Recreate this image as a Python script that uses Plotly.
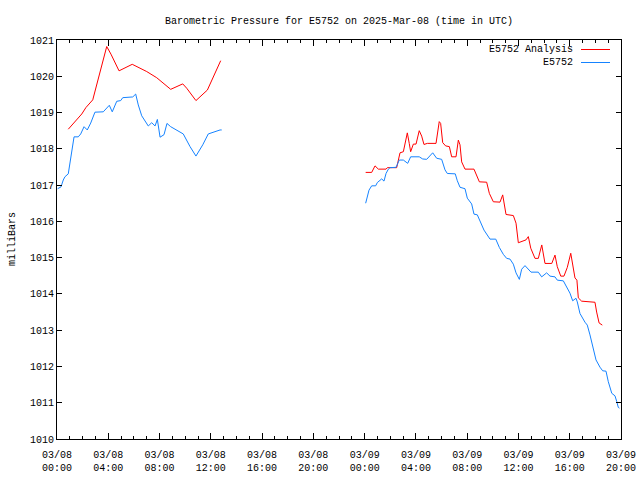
import pandas as pd
import plotly.graph_objects as go

base = pd.Timestamp("2025-03-08 00:00")

# E5752 observations (hours since 2025-03-08 00:00 UTC, millibars)
obs1_hours = [0.05, 0.31, 0.49, 0.62, 0.88, 1.15, 1.33, 1.66, 1.85, 2.11, 2.36, 2.63, 2.96, 3.61, 4.08,
              4.31, 4.66, 4.97, 5.13, 5.91, 6.14, 6.34, 6.61, 7.12, 7.39, 7.65, 7.83, 8.04, 8.35,
              8.58, 8.87, 9.85, 10.38, 10.84, 11.37, 11.80, 12.19, 12.72, 12.85]
obs1_mb = [1016.90, 1016.95, 1017.14, 1017.23, 1017.31, 1017.88, 1018.33, 1018.33, 1018.41, 1018.61,
           1018.52, 1018.71, 1019.01, 1019.02, 1019.20, 1019.02, 1019.31, 1019.33, 1019.41, 1019.43,
           1019.51, 1019.21, 1018.91, 1018.63, 1018.72, 1018.63, 1018.81, 1018.32, 1018.39,
           1018.70, 1018.61, 1018.41, 1018.06, 1017.80, 1018.11, 1018.41, 1018.46, 1018.52, 1018.52]

obs2_hours = [24.08, 24.21, 24.34, 24.55, 24.86, 24.99, 25.33, 25.51, 25.67, 25.85, 25.98, 26.45,
              26.70, 27.02, 27.36, 27.59, 28.26, 28.53, 28.84, 29.31, 29.62, 30.01, 30.27, 30.45,
              31.07, 31.23, 31.44, 31.83, 32.01, 32.35, 32.53, 32.79, 33.00, 33.31, 33.78, 34.23,
              34.51, 34.82, 35.08, 35.34, 35.60, 35.81, 36.07, 36.25, 36.51, 36.98, 37.55, 37.81,
              38.20, 38.46, 38.85, 39.03, 39.50, 39.76, 40.02, 40.23, 40.49, 40.59, 40.80, 41.19,
              41.37, 41.58, 41.79, 42.05, 42.36, 42.57, 42.83, 43.01, 43.28, 43.53, 43.67, 43.79, 43.88]
obs2_mb = [1016.50, 1016.66, 1016.86, 1016.98, 1016.98, 1017.07, 1017.17, 1017.11, 1017.32, 1017.44,
           1017.48, 1017.49, 1017.69, 1017.69, 1017.60, 1017.78, 1017.78, 1017.72, 1017.71, 1017.89,
           1017.74, 1017.71, 1017.42, 1017.32, 1017.31, 1017.12, 1016.94, 1016.90, 1016.64, 1016.48,
           1016.20, 1016.18, 1016.02, 1015.76, 1015.51, 1015.51, 1015.28, 1015.09, 1014.98, 1014.96,
           1014.82, 1014.58, 1014.40, 1014.68, 1014.78, 1014.60, 1014.60, 1014.47, 1014.58, 1014.49,
           1014.47, 1014.38, 1014.36, 1014.20, 1014.02, 1013.81, 1013.88, 1013.78, 1013.46, 1013.22,
           1013.14, 1012.87, 1012.54, 1012.18, 1011.98, 1011.88, 1011.87, 1011.58, 1011.26, 1011.19,
           1011.03, 1010.87, 1010.85]

# E5752 Analysis
ana1_hours = [0.88, 1.40, 1.93, 2.26, 2.79, 3.88, 4.21, 4.84, 5.87, 7.00, 7.78, 8.87, 9.81, 10.12,
              10.84, 11.73, 12.77]
ana1_mb = [1018.54, 1018.75, 1018.96, 1019.14, 1019.35, 1020.82, 1020.61, 1020.15, 1020.33, 1020.13,
           1019.96, 1019.64, 1019.79, 1019.67, 1019.33, 1019.62, 1020.43]

ana2_hours = [24.08, 24.55, 24.81, 25.07, 25.67, 25.77, 26.50, 26.76, 27.02, 27.15, 27.33, 27.48,
              27.59, 27.80, 28.01, 28.26, 28.45, 28.63, 28.89, 29.57, 29.82, 29.93, 30.09, 30.32,
              30.61, 30.79, 31.13, 31.31, 31.44, 31.57, 31.83, 32.53, 32.95, 33.52, 33.73, 34.04,
              34.56, 34.77, 35.03, 35.60, 35.81, 35.99, 36.59, 36.77, 36.96, 37.29, 37.55, 37.82,
              38.07, 38.60, 38.85, 39.03, 39.30, 39.55, 39.81, 40.08, 40.28, 40.41, 40.56, 40.67,
              40.93, 41.97, 42.10, 42.29, 42.54]
ana2_mb = [1017.35, 1017.35, 1017.53, 1017.44, 1017.44, 1017.48, 1017.48, 1017.89, 1017.92, 1018.15,
           1018.44, 1018.15, 1017.92, 1018.13, 1018.13, 1018.50, 1018.35, 1018.12, 1018.15, 1018.15,
           1018.75, 1018.70, 1018.17, 1018.08, 1018.06, 1017.78, 1017.78, 1018.24, 1018.11, 1017.64,
           1017.44, 1017.44, 1017.09, 1017.08, 1016.77, 1016.54, 1016.53, 1016.73, 1016.19, 1016.16,
           1015.95, 1015.41, 1015.49, 1015.58, 1015.26, 1014.98, 1014.98, 1015.35, 1014.84, 1014.84,
           1015.07, 1014.75, 1014.49, 1014.49, 1014.73, 1015.12, 1014.75, 1014.44, 1014.38, 1013.89,
           1013.80, 1013.77, 1013.50, 1013.20, 1013.14]

series_names = ["E5752 Analysis", "E5752"]
series_colors = ["#ff0000", "#1583ff"]
y_ticks = list(range(1010, 1022))


def to_time(hours):
    return [base + pd.Timedelta(hours=h) for h in hours]


# Gap between the two days of data (None breaks the line)
ana_x = to_time(ana1_hours) + [None] + to_time(ana2_hours)
ana_y = ana1_mb + [None] + ana2_mb
obs_x = to_time(obs1_hours) + [None] + to_time(obs2_hours)
obs_y = obs1_mb + [None] + obs2_mb

FONT = "Liberation Mono, DejaVu Sans Mono, monospace"

fig = go.Figure()
fig.add_trace(go.Scatter(x=ana_x, y=ana_y, mode="lines", name=series_names[0],
                         line=dict(color=series_colors[0], width=1), connectgaps=False))
fig.add_trace(go.Scatter(x=obs_x, y=obs_y, mode="lines", name=series_names[1],
                         line=dict(color=series_colors[1], width=1), connectgaps=False))

fig.update_layout(
    width=640, height=480,
    margin=dict(l=57, r=19, t=40, b=41, autoexpand=False),
    plot_bgcolor="white", paper_bgcolor="white",
    showlegend=False,
    font=dict(family=FONT, size=10, color="black"),
    title=dict(text="Barometric Pressure for E5752 on 2025-Mar-08 (time in UTC)",
               x=339 / 640, xref="container", xanchor="center",
               y=1 - 20 / 480, yref="container", yanchor="middle",
               font=dict(family=FONT, size=10, color="black")),
)

fig.update_xaxes(
    type="date",
    range=[base, base + pd.Timedelta(hours=44)],
    tick0=base, dtick=4 * 3600000,
    tickformat="%m/%d<br>%H:%M",
    ticks="inside", ticklen=6, tickcolor="black",
    minor=dict(dtick=3600000, ticks="inside", ticklen=3, tickcolor="black"),
    showline=True, linecolor="black", linewidth=1, mirror="allticks",
    showgrid=False, zeroline=False, automargin=False,
    ticklabelstandoff=6,
    tickfont=dict(family=FONT, size=10, color="black"),
)
fig.update_yaxes(
    range=[1010, 1021],
    tickvals=y_ticks, ticktext=[str(v) for v in y_ticks],
    ticks="inside", ticklen=5, tickcolor="black",
    showline=True, linecolor="black", linewidth=1, mirror="allticks",
    showgrid=False, zeroline=False, automargin=False,
    tickfont=dict(family=FONT, size=10, color="black"),
)

# y axis label
fig.add_annotation(text="milliBars", x=0, xref="paper", xshift=-52, y=0.5, yref="paper",
                   textangle=-90, showarrow=False, font=dict(family=FONT, size=10))

# gnuplot-style key: text right-aligned, sample line to the right
key_y = [1 - 9.5 / 399, 1 - 22.5 / 399]
for name, color, ky in zip(series_names, series_colors, key_y):
    fig.add_annotation(text=name, x=(575 - 57) / 564, xref="paper", xanchor="right",
                       y=ky, yref="paper", yanchor="middle", showarrow=False,
                       font=dict(family=FONT, size=10))
    fig.add_shape(type="line", xref="paper", yref="paper",
                  x0=(581 - 57) / 564, x1=(610 - 57) / 564, y0=ky, y1=ky,
                  line=dict(color=color, width=1))

fig.write_html("out.html")
